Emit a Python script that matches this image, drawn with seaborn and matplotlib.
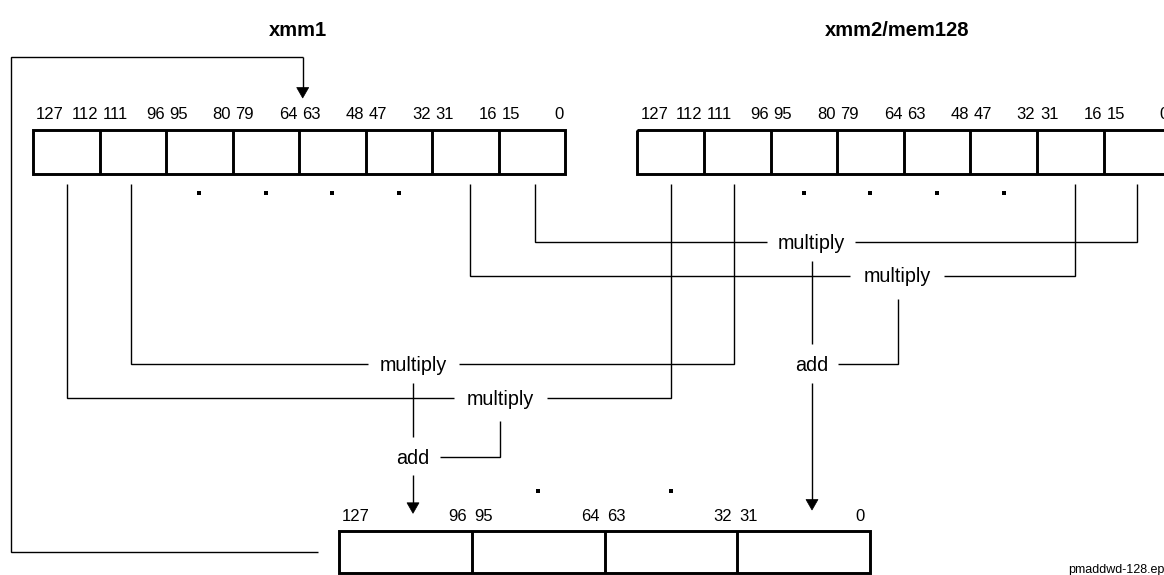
import matplotlib
matplotlib.use("Agg")
import matplotlib.pyplot as plt
from matplotlib import font_manager
from matplotlib.patches import Rectangle, Polygon
import pandas as pd
import seaborn as sns

# ---------------- data (labels / texts) ----------------
source_titles = ["xmm1", "xmm2/mem128"]
src_high_bits = [127, 111, 95, 79, 63, 47, 31, 15]
src_low_bits = [112, 96, 80, 64, 48, 32, 16, 0]
dst_high_bits = [127, 95, 63, 31]
dst_low_bits = [96, 64, 32, 0]
op_multiply = "multiply"
op_add = "add"
file_tag = "pmaddwd-128.eps"

# ---------------- style ----------------
sns.set_theme(style="white")

installed = {f.name for f in font_manager.fontManager.ttflist}
HAS_NARROW = "Liberation Sans Narrow" in installed
REG = "Liberation Sans" if "Liberation Sans" in installed else "DejaVu Sans"
BASE = "Liberation Sans Narrow" if HAS_NARROW else REG
plt.rcParams['font.family'] = [BASE, 'DejaVu Sans']

W, H = 1164, 575
fig = plt.figure(figsize=(W / 100, H / 100), dpi=100)
ax = fig.add_axes([0, 0, 1, 1])
ax.set_xlim(0, W)
ax.set_ylim(H, 0)
ax.axis('off')

K = 'black'
LW_BOX = 2.1
LW = 1.0
BIT_FS = 13.4 if HAS_NARROW else 12.0
OP_FS = 16.5 if HAS_NARROW else 14.2


def register(x0, cw, ytop, ybot, highs, lows, label_base, lpad, rpad):
    n = len(highs)
    ax.add_patch(Rectangle((x0, ytop), cw * n, ybot - ytop, fill=False,
                           edgecolor=K, linewidth=LW_BOX, joinstyle='miter'))
    for i in range(1, n):
        ax.plot([x0 + i * cw] * 2, [ytop, ybot], color=K, lw=LW_BOX,
                solid_capstyle='butt')
    for i, (hb, lb) in enumerate(zip(highs, lows)):
        left = x0 + i * cw
        ax.text(left + lpad, label_base, str(hb), ha='left', va='baseline',
                fontsize=BIT_FS, color=K)
        ax.text(left + cw - rpad, label_base, str(lb), ha='right',
                va='baseline', fontsize=BIT_FS, color=K)
    return [x0 + (i + 0.5) * cw for i in range(n)]


def path(pts):
    xs, ys = zip(*pts)
    ax.plot(xs, ys, color=K, lw=LW, solid_joinstyle='miter',
            solid_capstyle='butt')


def arrow_down(x, y0, tip, w=12, h=10.5):
    path([(x, y0), (x, tip - h + 1)])
    ax.add_patch(Polygon([(x - w / 2, tip - h), (x + w / 2, tip - h), (x, tip)],
                         closed=True, facecolor=K, edgecolor=K, lw=0.5))


def op_text(x, y, s):
    ax.text(x, y + 6.5, s, ha='center', va='baseline', fontsize=OP_FS, color=K)


# ---------------- titles ----------------
ax.text(298, 36, source_titles[0], ha='center', va='baseline',
        fontsize=14.5, fontweight='bold', color=K)
ax.text(897, 36, source_titles[1], ha='center', va='baseline',
        fontsize=14.5, fontweight='bold', color=K)

# ---------------- registers ----------------
lc = register(33, 66.5, 130, 174.3, src_high_bits, src_low_bits, 119.3, 3, 1.5)
rc = register(637.3, 66.6, 130, 174.3, src_high_bits, src_low_bits, 119.3, 3, 1.5)
dc = register(339.3, 132.7, 531, 572.5, dst_high_bits, dst_low_bits, 521, 2, 5)

# ellipsis dots under the middle elements
dots = pd.DataFrame({
    "x": lc[2:6] + rc[2:6] + dc[1:3],
    "y": [193.3] * 8 + [490.5] * 2,
})
sns.scatterplot(data=dots, x="x", y="y", ax=ax, marker='s', s=7,
                color=K, edgecolor=K, linewidth=0, legend=False)

# ---------------- connectors ----------------
TOP = 184
lt = {0: 66.7, 1: 131, 6: 470, 7: 535}
rt = {0: 671, 1: 734, 6: 1075, 7: 1137}

# multiply A
yA = 242.3
path([(lt[7], TOP), (lt[7], yA), (766.7, yA)])
path([(855, yA), (rt[7], yA), (rt[7], TOP)])
op_text(811, yA, op_multiply)

# multiply B
yB = 276
path([(lt[6], TOP), (lt[6], yB), (850, yB)])
path([(944, yB), (rt[6], yB), (rt[6], TOP)])
op_text(897.5, yB, op_multiply)

# add (low)
yAdd1 = 364.3
path([(812, 260.7), (812, 344.3)])
op_text(812, yAdd1, op_add)
path([(838, yAdd1), (898, yAdd1), (898, 298.7)])
arrow_down(812, 383, 510)

# multiply C
yC = 364.3
path([(lt[1], TOP), (lt[1], yC), (368.3, yC)])
path([(459.3, yC), (rt[1], yC), (rt[1], TOP)])
op_text(413, yC, op_multiply)

# multiply D
yD = 398.3
path([(lt[0], TOP), (lt[0], yD), (454, yD)])
path([(546.7, yD), (rt[0], yD), (rt[0], TOP)])
op_text(500, yD, op_multiply)

# add (high)
yAdd2 = 457.3
path([(413, 383.3), (413, 436.7)])
op_text(413, yAdd2, op_add)
path([(440, yAdd2), (500, yAdd2), (500, 421)])
arrow_down(413, 475, 513.3)

# feedback bracket (destination is also xmm1)
path([(318.3, 551.7), (10.5, 551.7), (10.5, 57.3), (302.7, 57.3)])
arrow_down(302.7, 57.3, 98)

# file tag
ax.text(1068, 573, file_tag, ha='left', va='baseline', fontsize=9, color=K,
        family=[REG, 'DejaVu Sans'], clip_on=True)

fig.savefig("out.png", dpi=100)
